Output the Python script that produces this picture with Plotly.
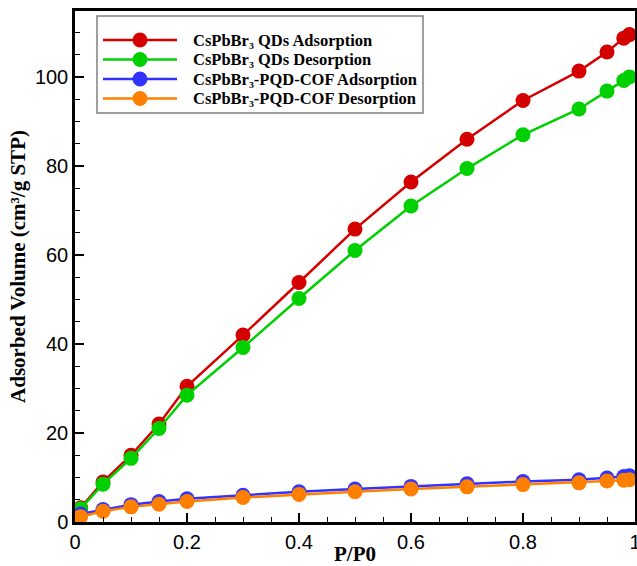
import plotly.graph_objects as go

p_p0 = [0.01, 0.05, 0.1, 0.15, 0.2, 0.3, 0.4, 0.5, 0.6, 0.7, 0.8, 0.9, 0.95, 0.98, 0.99]
qd_ads = [3.2, 9.0, 15.0, 22.0, 30.5, 42.0, 53.8, 65.8, 76.4, 86.0, 94.7, 101.3, 105.6, 108.7, 109.5]
qd_des = [3.0, 8.5, 14.3, 21.0, 28.5, 39.2, 50.2, 61.0, 71.0, 79.4, 87.0, 92.8, 96.8, 99.2, 100.0]
cof_ads = [1.8, 2.8, 3.9, 4.6, 5.2, 6.0, 6.8, 7.4, 8.0, 8.6, 9.1, 9.5, 9.9, 10.2, 10.4]
cof_des = [1.2, 2.4, 3.4, 4.0, 4.6, 5.5, 6.2, 6.8, 7.4, 7.9, 8.4, 8.8, 9.2, 9.4, 9.5]

names = ["CsPbBr\u2083 QDs Adsorption", "CsPbBr\u2083 QDs Desorption",
         "CsPbBr\u2083-PQD-COF Adsorption", "CsPbBr\u2083-PQD-COF Desorption"]
colors = ["#d40000", "#00d000", "#3333ff", "#ff8000"]
series = [qd_ads, qd_des, cof_ads, cof_des]

W, H = 637, 566
ML, MR, MT, MB = 75, 2, 11, 44
PW, PH = W - ML - MR, H - MT - MB


def px_x(x):
    return (x - ML) / PW


def px_y(y):
    return (H - MB - y) / PH


fig = go.Figure()
for name, col, ys in zip(names, colors, series):
    fig.add_trace(go.Scatter(
        x=p_p0, y=ys, mode="lines+markers", name=name, showlegend=False,
        line=dict(color=col, width=2.5),
        marker=dict(color=col, size=15, symbol="circle"),
    ))

axis_common = dict(
    showline=True, linecolor="black", linewidth=2.5, mirror=True,
    ticks="inside", ticklen=9, tickwidth=2, tickcolor="black",
    showgrid=False, zeroline=False, automargin=False, ticklabeloverflow="allow",
    tickfont=dict(family="Liberation Sans, Arial", size=20, color="black"),
)
title_font = dict(family="Liberation Serif, Times New Roman", size=21, color="black")

fig.update_xaxes(
    range=[0, 1], tickvals=[0, 0.2, 0.4, 0.6, 0.8, 1], ticktext=["0", "0.2", "0.4", "0.6", "0.8", "1"],
    minor=dict(dtick=0.05, ticks="inside", ticklen=5, tickwidth=1, tickcolor="black"),
    title=dict(text="<b>P/P0</b>", font=title_font, standoff=0),
    ticklabelstandoff=0,
    **axis_common,
)
fig.update_yaxes(
    range=[0, 114.8], tickvals=[0, 20, 40, 60, 80, 100],
    minor=dict(dtick=5, ticks="inside", ticklen=5, tickwidth=1, tickcolor="black"),
    title=dict(text="<b>Adsorbed Volume (cm\u00b3/g STP)</b>", font=title_font, standoff=4),
    **axis_common,
)

# custom legend (box, line samples, marker samples, labels)
shapes = [dict(type="rect", xref="paper", yref="paper",
               x0=px_x(97), x1=px_x(423), y0=px_y(113), y1=px_y(16),
               line=dict(color="#808080", width=1.5), fillcolor="white", layer="above")]
annotations = []
row_y = [40, 59.5, 79, 98.5]
for name, col, ry in zip(names, colors, row_y):
    yp = px_y(ry)
    shapes.append(dict(type="line", xref="paper", yref="paper",
                       x0=px_x(103), x1=px_x(177), y0=yp, y1=yp,
                       line=dict(color=col, width=2.5), layer="above"))
    shapes.append(dict(type="circle", xref="paper", yref="paper",
                       xsizemode="pixel", ysizemode="pixel",
                       xanchor=px_x(140), yanchor=yp,
                       x0=-7.5, x1=7.5, y0=-7.5, y1=7.5,
                       line=dict(color=col, width=0), fillcolor=col, layer="above"))
    annotations.append(dict(xref="paper", yref="paper", x=px_x(191), y=yp,
                            xanchor="left", yanchor="middle", showarrow=False,
                            text="<b>" + name + "</b>",
                            font=dict(family="Liberation Serif, Times New Roman", size=16.5, color="black")))

fig.update_layout(
    width=W, height=H,
    margin=dict(l=ML, r=MR, t=MT, b=MB),
    plot_bgcolor="white", paper_bgcolor="white",
    shapes=shapes, annotations=annotations,
    showlegend=False,
)

fig.write_html("out.html", config={"displayModeBar": False},
               post_script="document.body.style.margin='0';document.body.style.overflow='hidden';")
